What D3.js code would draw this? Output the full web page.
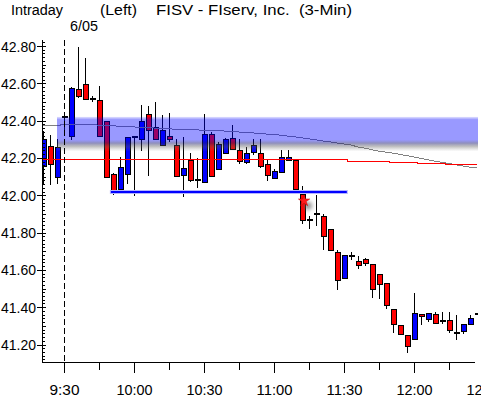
<!DOCTYPE html>
<html>
<head>
<meta charset="utf-8">
<script src="https://cdn.jsdelivr.net/npm/d3@7"></script>
<style>
  body { margin: 0; background: #fff; }
  svg { display: block; font-family: "Liberation Sans", Arial, sans-serif; }
  text { white-space: pre; }
</style>
</head>
<body>
<svg id="chart" width="481" height="398"></svg>
<script>
// 3-minute bars, slot 0 = 9:30 on 6/05, slots -3..-1 are the prior session
var firstSlot = -3;
var opens  = [42.155,42.266,42.100,42.413,42.318,42.567,42.595,42.515,42.513,42.397,42.116,42.036,42.113,42.305,42.304,42.438,42.366,42.272,42.316,42.268,42.111,42.188,42.080,42.071,42.327,42.143,42.224,42.309,42.245,42.179,42.232,42.229,42.170,42.093,42.122,42.191,42.188,42.009,41.869,41.900,41.889,41.821,41.694,41.557,41.675,41.648,41.660,41.634,41.580,41.532,41.392,41.307,41.253,41.231,41.365,41.339,41.365,41.333,41.333,41.264,41.271,41.312,41.365];
var highs  = [42.343,42.325,42.300,42.420,42.580,42.795,42.733,42.532,42.585,42.400,42.120,42.205,42.312,42.310,42.483,42.480,42.500,42.429,42.441,42.304,42.310,42.229,42.197,42.438,42.340,42.285,42.305,42.375,42.300,42.256,42.304,42.304,42.188,42.143,42.241,42.245,42.195,42.048,41.887,42.000,41.900,41.821,41.705,41.682,41.696,41.675,41.666,41.634,41.580,41.532,41.392,41.307,41.253,41.476,41.365,41.371,41.374,41.374,41.374,41.357,41.312,41.357,41.368];
var lows   = [42.054,42.054,42.060,42.330,42.295,42.520,42.510,42.500,42.310,42.090,42.000,42.018,42.060,41.995,42.236,42.102,42.295,42.266,42.286,42.098,41.988,42.072,42.040,42.068,42.100,42.138,42.222,42.246,42.170,42.166,42.214,42.148,42.077,42.088,42.117,42.188,42.027,41.848,41.821,41.834,41.709,41.700,41.494,41.552,41.651,41.607,41.620,41.451,41.446,41.392,41.262,41.255,41.157,41.226,41.307,41.322,41.312,41.312,41.262,41.226,41.255,41.306,41.362];
var closes = [42.300,42.165,42.256,42.417,42.577,42.531,42.518,42.514,42.318,42.098,42.018,42.150,42.310,42.310,42.397,42.352,42.304,42.349,42.302,42.103,42.148,42.084,42.080,42.327,42.103,42.277,42.300,42.246,42.184,42.229,42.268,42.155,42.107,42.129,42.205,42.205,42.034,41.866,41.869,41.900,41.780,41.709,41.548,41.682,41.675,41.628,41.639,41.500,41.523,41.410,41.312,41.258,41.190,41.371,41.351,41.371,41.316,41.328,41.280,41.264,41.312,41.344,41.365];

// red average price line and grey moving average, one value per bar
var avgPrice = [42.192,42.192,42.192,42.192,42.192,42.192,42.192,42.192,42.192,42.192,42.192,42.192,42.192,42.192,42.192,42.192,42.192,
                42.196,42.196,42.196,42.196,42.196,
                42.192,42.192,42.192,42.192,42.192,42.192,42.192,42.192,42.192,42.192,42.192,42.192,42.192,42.192,42.192,42.192,42.192,42.192,42.192,42.192,42.192,42.192,
                42.186,42.186,42.186,42.186,42.186,42.186,
                42.180,42.180,42.180,42.180,
                42.175,42.175,42.175,42.175,
                42.170,42.170,42.170,42.170,
                42.165];
var movAvg = [42.374,42.375,42.376,42.377,42.378,42.379,42.379,42.378,42.376,42.374,42.372,42.370,42.368,42.366,42.364,42.362,42.360,42.358,42.356,42.354,42.352,42.351,42.350,42.349,42.349,42.346,42.344,42.341,42.339,42.336,42.334,42.331,42.328,42.325,42.322,42.317,42.313,42.308,42.302,42.297,42.291,42.286,42.280,42.275,42.269,42.259,42.252,42.244,42.236,42.231,42.226,42.219,42.212,42.205,42.197,42.190,42.183,42.176,42.170,42.163,42.157,42.150,42.146];

// resistance band and support line
var bandTop = 42.42, bandBottom = 42.235, bandFromSlot = -1;
var supportLevel = 42.017, supportFrom = 6.7, supportTo = 40.4;
var markerSlot = 34.3, markerPrice = 41.97;

var priceLabels = [41.2, 41.4, 41.6, 41.8, 42.0, 42.2, 42.4, 42.6, 42.8];
var timeLabels = ["9:30", "10:00", "10:30", "11:00", "11:30", "12:00", "12:30"];

var width = 481, height = 398;
var pLeft = 42, pRight = 475, pTop = 40, pBottom = 362;

var x = d3.scaleLinear().domain([0, 60]).range([64, 484]);
var y = d3.scaleLinear().domain([41.2, 42.8]).range([344.5, 46]);

var bars = opens.map((o, i) => ({
  slot: firstSlot + i, o: o, h: highs[i], l: lows[i], c: closes[i]
}));

var svg = d3.select("#chart");
var defs = svg.append("defs");

defs.append("clipPath").attr("id", "plot")
  .append("rect").attr("x", pLeft + 1).attr("y", pTop - 4)
  .attr("width", 478 - pLeft - 1).attr("height", pBottom - pTop + 4);

var grad = defs.append("linearGradient").attr("id", "band")
  .attr("x1", 0).attr("y1", 0).attr("x2", 0).attr("y2", 1);
[[0, "#0000ff", 0.12], [0.08, "#0000ff", 0.4], [0.66, "#0000ff", 0.4],
 [0.76, "#1e1e78", 0.5], [0.86, "#5a5a5a", 0.38], [1, "#808080", 0]].forEach(s => {
  grad.append("stop").attr("offset", s[0]).attr("stop-color", s[1]).attr("stop-opacity", s[2]);
});

var blur = defs.append("filter").attr("id", "soft").attr("x", "-50%").attr("y", "-50%")
  .attr("width", "200%").attr("height", "200%");
blur.append("feGaussianBlur").attr("stdDeviation", 2);

var plot = svg.append("g").attr("clip-path", "url(#plot)");

// candles
var candle = plot.append("g").attr("shape-rendering", "crispEdges")
  .selectAll("g").data(bars).enter().append("g");

candle.append("line")
  .attr("x1", d => Math.round(x(d.slot)) + 0.5).attr("x2", d => Math.round(x(d.slot)) + 0.5)
  .attr("y1", d => Math.round(y(d.h))).attr("y2", d => Math.round(y(d.l)))
  .attr("stroke", "#000").attr("stroke-width", 1);

candle.filter(d => Math.abs(d.o - d.c) >= 0.008).append("rect")
  .attr("x", d => Math.round(x(d.slot)) - 2)
  .attr("width", 5)
  .attr("y", d => Math.round(y(Math.max(d.o, d.c))) + 0.5)
  .attr("height", d => Math.max(1, Math.round(y(Math.min(d.o, d.c))) - Math.round(y(Math.max(d.o, d.c)))))
  .attr("fill", d => d.c >= d.o ? "#0000ff" : "#ff0000")
  .attr("stroke", "#000").attr("stroke-width", 1);

candle.filter(d => Math.abs(d.o - d.c) < 0.008).append("rect")
  .attr("x", d => Math.round(x(d.slot)) - 2)
  .attr("width", 6)
  .attr("y", d => Math.round(y(d.c)) - 1)
  .attr("height", 2)
  .attr("fill", "#000");

// grey moving average
plot.append("path")
  .datum(movAvg)
  .attr("d", d3.line().x((d, i) => x(firstSlot + i)).y(d => y(d)))
  .attr("fill", "none").attr("stroke", "#808080").attr("stroke-width", 1)
  .attr("shape-rendering", "crispEdges");

// red average price line
plot.append("path")
  .datum(avgPrice)
  .attr("d", d3.line().curve(d3.curveStep).x((d, i) => x(firstSlot + i)).y(d => Math.round(y(d)) + 0.5))
  .attr("fill", "none").attr("stroke", "#ff0000").attr("stroke-width", 1)
  .attr("shape-rendering", "crispEdges");

// resistance band
plot.append("rect")
  .attr("x", x(bandFromSlot)).attr("width", width - x(bandFromSlot))
  .attr("y", y(bandTop)).attr("height", y(bandBottom) - y(bandTop))
  .attr("fill", "url(#band)");

// support line, soft halo then solid core
var sy = Math.round(y(supportLevel));
plot.append("line")
  .attr("x1", x(supportFrom) - 1).attr("x2", x(supportTo) + 1)
  .attr("y1", sy).attr("y2", sy)
  .attr("stroke", "#b4b4ff").attr("stroke-width", 4);
plot.append("line")
  .attr("x1", x(supportFrom)).attr("x2", x(supportTo))
  .attr("y1", sy).attr("y2", sy)
  .attr("stroke", "#0000ff").attr("stroke-width", 2);

// red marker with shadow
var mx = x(markerSlot), my = y(markerPrice);
plot.append("circle").attr("cx", mx + 4).attr("cy", my + 5).attr("r", 4)
  .attr("fill", "#666").attr("opacity", 0.7).attr("filter", "url(#soft)");
plot.append("path")
  .attr("transform", "translate(" + mx + "," + my + ")")
  .attr("d", d3.symbol(d3.symbolStar, 40)())
  .attr("fill", "#ff1a1a").attr("stroke", "#c00000").attr("stroke-width", 0.5);

// session divider
svg.append("line")
  .attr("x1", x(0) + 0.5).attr("x2", x(0) + 0.5)
  .attr("y1", pTop).attr("y2", pBottom)
  .attr("stroke", "#000").attr("stroke-width", 1).attr("stroke-dasharray", "6,3")
  .attr("shape-rendering", "crispEdges");

// y axis
var ya = svg.append("g").attr("shape-rendering", "crispEdges");
ya.append("line").attr("x1", pLeft + 0.5).attr("x2", pLeft + 0.5).attr("y1", pTop).attr("y2", pBottom + 0.5)
  .attr("stroke", "#000");
var minor = d3.range(0, 90).map(i => 41.1 + i * 0.02).filter(p => y(p) >= pTop && y(p) <= pBottom);
ya.selectAll(".mn").data(minor).enter().append("line")
  .attr("x1", pLeft + 1).attr("x2", d => Math.abs(Math.round(d * 10) - d * 10) < 0.001 ? pLeft + 4 : pLeft + 3)
  .attr("y1", d => Math.round(y(d)) + 0.5).attr("y2", d => Math.round(y(d)) + 0.5)
  .attr("stroke", "#000");
ya.selectAll(".mj").data(priceLabels).enter().append("line")
  .attr("x1", pLeft - 5).attr("x2", pLeft)
  .attr("y1", d => Math.round(y(d)) + 0.5).attr("y2", d => Math.round(y(d)) + 0.5)
  .attr("stroke", "#000");
ya.selectAll("text").data(priceLabels).enter().append("text")
  .attr("x", 1).attr("y", d => y(d) + 5.5)
  .attr("font-size", "15px")
  .attr("textLength", 35).attr("lengthAdjust", "spacingAndGlyphs")
  .text(d => d.toFixed(2));

// x axis
var xa = svg.append("g").attr("shape-rendering", "crispEdges");
xa.append("line").attr("x1", pLeft).attr("x2", pRight).attr("y1", pBottom + 0.5).attr("y2", pBottom + 0.5)
  .attr("stroke", "#000");
var tickSlots = d3.range(0, 65, 5).filter(s => x(s) <= pRight);
xa.selectAll(".tk").data(tickSlots).enter().append("line")
  .attr("x1", d => x(d) + 0.5).attr("x2", d => x(d) + 0.5)
  .attr("y1", pBottom).attr("y2", d => d % 10 === 0 ? pBottom + 11 : pBottom + 8)
  .attr("stroke", "#000");
xa.selectAll("text").data(timeLabels).enter().append("text")
  .attr("x", (d, i) => x(i * 10) + 0.5 - (d.length > 4 ? 18 : 15)).attr("y", 395)
  .attr("font-size", "15.5px")
  .attr("textLength", d => d.length > 4 ? 36 : 30).attr("lengthAdjust", "spacingAndGlyphs")
  .text(d => d);

// header
var head = svg.append("g").attr("font-size", "15.5px");
head.append("text").attr("x", 11).attr("y", 15).attr("textLength", 52).attr("lengthAdjust", "spacingAndGlyphs").text("Intraday");
head.append("text").attr("x", 100).attr("y", 15).attr("textLength", 37).attr("lengthAdjust", "spacingAndGlyphs").text("(Left)");
head.append("text").attr("x", 156).attr("y", 15).attr("textLength", 196).attr("lengthAdjust", "spacingAndGlyphs").text("FISV - FIserv, Inc.  (3-Min)");
head.append("text").attr("x", 70).attr("y", 31).attr("textLength", 28).attr("lengthAdjust", "spacingAndGlyphs").text("6/05");
</script>
</body>
</html>
